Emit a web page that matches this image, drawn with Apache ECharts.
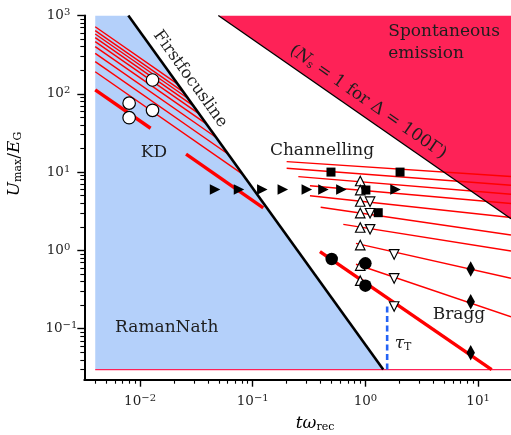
<!DOCTYPE html>
<html>
<head>
<meta charset="utf-8">
<script src="https://cdn.jsdelivr.net/npm/echarts@6/dist/echarts.min.js"></script>
<style>
  html, body { margin: 0; padding: 0; background: #fff; }
  #chart { width: 511px; height: 435px; }
</style>
</head>
<body>
<div id="chart"></div>
<script>
// ---- axis ranges and tick labels (decade exponents) ----
const tRange = [0.0032, 19.6];
const uRange = [0.0223, 1000];
const xTickExponents = [-2, -1, 0, 1];
const yTickExponents = [-1, 0, 1, 2, 3];
const minorMantissas = [2, 3, 4, 5, 6, 7, 8, 9];

// ---- regions ----
// Raman-Nath / Kapitza-Dirac area, bounded by the first focus line
const kdRegionT = [0.004, 0.004, 0.00787, 1.44];
const kdRegionU = [0.03, 1000, 1000, 0.03];
// spontaneous emission area above N_s = 1
const spontRegionT = [0.0495, 19.6, 19.6];
const spontRegionU = [1000, 1000, 2.53];

// ---- boundary lines ----
const focusT = [0.00787, 1.44];
const focusU = [1000, 0.03];
const spontEdgeT = [0.0495, 19.6];
const spontEdgeU = [1000, 2.53];
const floorT = [0.004, 19.6];
const floorU = [0.03, 0.03];
const tauT = [1.56, 1.56];
const tauU = [0.03, 0.205];

// ---- thin red lines in the KD regime (start / end) ----
const kdStartT = [0.004, 0.004, 0.004, 0.004, 0.004, 0.004, 0.004, 0.004, 0.004];
const kdStartU = [719, 640, 581, 521, 463, 400, 329, 257, 191];
const kdEndT = [0.0216, 0.0242, 0.0267, 0.0298, 0.0335, 0.0388, 0.0471, 0.0603, 0.0812];
const kdEndU = [133, 106, 87.1, 70.0, 55.3, 41.3, 27.9, 17.0, 9.41];

// ---- thin red lines in the channelling / Bragg regime (start / end) ----
const chStartT = [0.200, 0.200, 0.254, 0.322, 0.322, 0.401, 0.637, 0.825, 0.825];
const chStartU = [13.6, 11.2, 8.74, 6.70, 4.99, 3.55, 2.15, 1.23, 0.665];
const chEndT = [19.6, 19.6, 19.6, 19.6, 19.6, 19.6, 19.6, 19.6, 19.6];
const chEndU = [8.79, 6.78, 5.21, 3.97, 2.63, 1.57, 0.982, 0.440, 0.142];

// ---- thick red lines (start / end) ----
const thickStartT = [0.004, 0.0256, 0.395];
const thickStartU = [112, 17.0, 0.962];
const thickEndT = [0.0124, 0.124, 13.2];
const thickEndU = [36.3, 3.5, 0.03];

// ---- experimental points ----
const rightTriT = [0.0463, 0.0755, 0.1216, 0.185, 0.302, 0.424, 0.612, 1.85];
const rightTriU = [6.0, 6.0, 6.0, 6.0, 6.0, 6.0, 6.0, 6.0];
const squareT = [0.495, 2.03, 1.01, 1.30];
const squareU = [10, 10, 5.9, 3.03];
const upTriT = [0.9, 0.9, 0.9, 0.9, 0.9, 0.9, 0.9, 0.9];
const upTriU = [7.7, 5.9, 4.21, 3.0, 1.96, 1.17, 0.64, 0.41];
const downTriT = [1.10, 1.10, 1.10, 1.80, 1.80, 1.80];
const downTriU = [4.19, 2.98, 1.86, 0.887, 0.438, 0.192];
const dotT = [0.502, 1.0, 1.0];
const dotU = [0.776, 0.684, 0.354];
const ringT = [0.008, 0.008, 0.0129, 0.0129];
const ringU = [76, 49.5, 150, 61.5];
const diamondT = [8.6, 8.6, 8.6];
const diamondU = [0.58, 0.221, 0.0493];

// ---------------------------------------------------------------
const FONT = 'DejaVu Serif';
const INK = '#1e1e1e';
const BLUE = '#b4d0fa';
const PINK = '#fe2257';
const RED = '#ff0000';

const pairs = (ts, us) => ts.map((t, i) => [t, us[i]]);

function decadeValues(exps) {
  return exps.map(e => Math.pow(10, e));
}
function minorValues(lo, hi) {
  const out = [];
  for (let e = Math.floor(Math.log10(lo)); e <= Math.ceil(Math.log10(hi)); e++) {
    minorMantissas.forEach(m => {
      const v = m * Math.pow(10, e);
      if (v >= lo && v <= hi) out.push(v);
    });
  }
  return out;
}

const supRich = {
  b: { fontFamily: FONT, fontSize: 13.5, lineHeight: 16, color: INK },
  s: { fontFamily: FONT, fontSize: 10, lineHeight: 7, verticalAlign: 'top', color: INK },
  sp: { width: 7 }
};
function powLabel(v, spacer) {
  const e = Math.round(Math.log10(v));
  const txt = e < 0 ? '\u2212' + (-e) : String(e);
  return '{b|10}{s|' + txt + '}' + (spacer && e >= 0 ? '{sp|}' : '');
}

function polygonSeries(ts, us, color, z) {
  return {
    type: 'custom',
    silent: true,
    z: z,
    clip: true,
    data: pairs(ts, us),
    renderItem: function (params, api) {
      if (params.dataIndex !== 0) return null;
      const pts = ts.map((t, i) => api.coord([t, us[i]]));
      return { type: 'polygon', shape: { points: pts }, style: { fill: color } };
    }
  };
}

function lineSeries(ts, us, color, width, z, dash) {
  return {
    type: 'line',
    data: pairs(ts, us),
    showSymbol: false,
    symbol: 'none',
    silent: true,
    z: z,
    lineStyle: { color: color, width: width, type: dash || 'solid', cap: 'butt' },
    animation: false
  };
}

function markerSeries(ts, us, symbol, size, fill, rotate, z) {
  return {
    type: 'scatter',
    data: pairs(ts, us),
    symbol: symbol,
    symbolSize: size,
    symbolRotate: rotate || 0,
    silent: true,
    z: z || 6,
    itemStyle: { color: fill, borderColor: '#000', borderWidth: fill === '#000' ? 0 : 1.2, opacity: 1 }
  };
}

const series = [];
series.push(polygonSeries(kdRegionT, kdRegionU, BLUE, 1));
series.push(polygonSeries(spontRegionT, spontRegionU, PINK, 1));
series.push(lineSeries(floorT, floorU, PINK, 1.2, 2));
kdStartT.forEach((t, i) => series.push(lineSeries([t, kdEndT[i]], [kdStartU[i], kdEndU[i]], RED, 1.4, 3)));
chStartT.forEach((t, i) => series.push(lineSeries([t, chEndT[i]], [chStartU[i], chEndU[i]], RED, 1.4, 3)));
thickStartT.forEach((t, i) => series.push(lineSeries([t, thickEndT[i]], [thickStartU[i], thickEndU[i]], RED, 3.4, 3)));
series.push(lineSeries(spontEdgeT, spontEdgeU, '#000', 1.3, 4));
series.push(lineSeries(focusT, focusU, '#000', 2.6, 4));
series.push(lineSeries(tauT, tauU, '#2463f5', 2.6, 4, [6, 3.5]));

series.push(markerSeries(rightTriT, rightTriU, 'triangle', 10.5, '#000', -90));
series.push(markerSeries(upTriT, upTriU, 'triangle', 9.5, '#fff', 0));
series.push(markerSeries(downTriT, downTriU, 'triangle', 9.5, '#fff', 180));
series.push(markerSeries(squareT, squareU, 'rect', 9, '#000', 0, 7));
series.push(markerSeries(dotT, dotU, 'circle', 12.5, '#000', 0, 7));
series.push(markerSeries(ringT, ringU, 'circle', 12.5, '#fff', 0, 7));
series.push(markerSeries(diamondT, diamondU, 'diamond', [8.5, 15.5], '#000', 0, 7));

const xMajor = decadeValues(xTickExponents);
const yMajor = decadeValues(yTickExponents);
const xMinor = minorValues(0.004, tRange[1]);
const yMinor = minorValues(0.03, uRange[1]);

const axisLine = { show: true, onZero: false, lineStyle: { color: '#000', width: 2 } };

const option = {
  animation: false,
  backgroundColor: '#fff',
  grid: { left: 84.3, top: 15.5, right: 0, bottom: 55.3, containLabel: false },
  xAxis: [
    {
      type: 'log', logBase: 10, min: tRange[0], max: tRange[1],
      position: 'bottom',
      axisLine: axisLine,
      splitLine: { show: false },
      axisTick: { show: true, inside: false, length: 7, customValues: xMajor, lineStyle: { color: '#000', width: 1.4 } },
      axisLabel: { show: true, margin: 14, customValues: xMajor, formatter: v => powLabel(v, false), rich: supRich }
    },
    {
      type: 'log', logBase: 10, min: tRange[0], max: tRange[1],
      position: 'bottom',
      axisLine: { show: false },
      splitLine: { show: false },
      axisTick: { show: true, inside: false, length: 4, customValues: xMinor, lineStyle: { color: '#000', width: 1.1 } },
      axisLabel: { show: false }
    }
  ],
  yAxis: [
    {
      type: 'log', logBase: 10, min: uRange[0], max: uRange[1],
      position: 'left',
      axisLine: axisLine,
      splitLine: { show: false },
      axisTick: { show: true, inside: false, length: 7, customValues: yMajor, lineStyle: { color: '#000', width: 1.4 } },
      axisLabel: { show: true, margin: 7, customValues: yMajor, formatter: v => powLabel(v, true), rich: supRich }
    },
    {
      type: 'log', logBase: 10, min: uRange[0], max: uRange[1],
      position: 'left',
      axisLine: { show: false },
      splitLine: { show: false },
      axisTick: { show: true, inside: false, length: 4, customValues: yMinor, lineStyle: { color: '#000', width: 1.1 } },
      axisLabel: { show: false }
    }
  ],
  series: series
};

const chart = echarts.init(document.getElementById('chart'), null, { renderer: 'canvas' });
chart.setOption(option);

// ---- annotations placed in data coordinates ----
const toPx = (t, u) => chart.convertToPixel({ xAxisIndex: 0, yAxisIndex: 0 }, [t, u]);
function slopeAngle(ts, us) {
  const a = toPx(ts[0], us[0]);
  const b = toPx(ts[1], us[1]);
  return Math.atan2(b[1] - a[1], b[0] - a[0]);
}

const textRich = {
  i: { fontFamily: FONT, fontStyle: 'italic', fontSize: 17, color: INK },
  n: { fontFamily: FONT, fontSize: 17, color: INK },
  sub: { fontFamily: FONT, fontSize: 11, lineHeight: 9, verticalAlign: 'bottom', color: INK },
  base: { fontFamily: FONT, fontSize: 17, lineHeight: 19, color: INK }
};

function label(t, u, text, opts) {
  const p = toPx(t, u);
  opts = opts || {};
  return {
    type: 'text',
    x: p[0], y: p[1],
    rotation: opts.rotation || 0,
    z: 100,
    silent: true,
    style: {
      text: text,
      fontFamily: FONT,
      fontSize: opts.fontSize || 17,
      fill: INK,
      align: opts.align || 'center',
      verticalAlign: 'middle',
      lineHeight: opts.lineHeight,
      rich: textRich
    }
  };
}

const focusAngle = slopeAngle(focusT, focusU);
const edgeAngle = slopeAngle(spontEdgeT, spontEdgeU);

const graphics = [
  label(0.0133, 17.5, 'KD'),
  label(0.412, 18.6, 'Channelling'),
  label(6.77, 0.150, 'Bragg'),
  label(0.01725, 0.102, 'RamanNath'),
  label(0.0278, 155, 'Firstfocusline', { rotation: -focusAngle, fontSize: 16.5 }),
  label(1.597, 452, 'Spontaneous\nemission', { align: 'left', lineHeight: 21.6 }),
  label(1.054, 78.5, '({i|N}{sub|s} = 1 for \u0394 = 100\u0393)', { rotation: -edgeAngle, fontSize: 17 }),
  label(2.157, 0.0640, '{i|\u03c4}{sub|T}'),
  // axis titles
  {
    type: 'text', x: 315, y: 424, silent: true, z: 100,
    style: { text: '{i|t}{i|\u03c9}{sub|rec}', align: 'center', verticalAlign: 'middle', rich: textRich }
  },
  {
    type: 'text', x: 15, y: 164, rotation: Math.PI / 2, silent: true, z: 100,
    style: { text: '{i|U}{sub|max}{n|/}{i|E}{sub|G}', align: 'center', verticalAlign: 'middle', rich: textRich }
  }
];

chart.setOption({ graphic: graphics });
</script>
</body>
</html>
